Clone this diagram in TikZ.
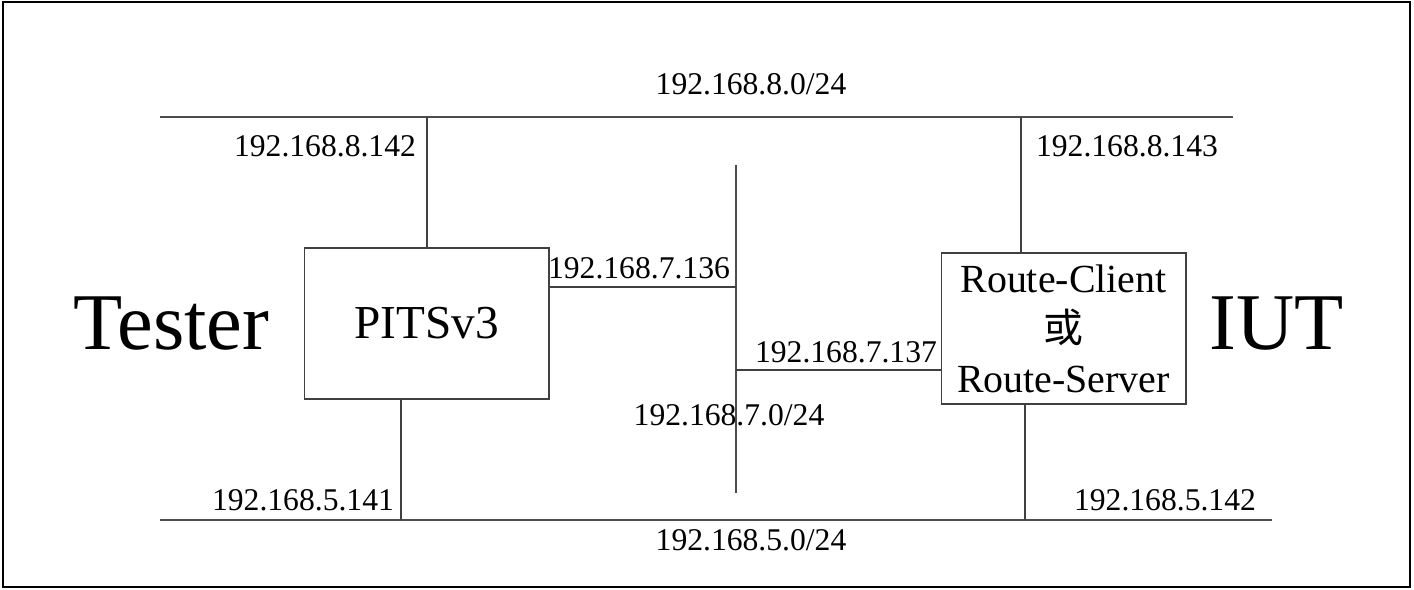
\documentclass[tikz,border=0pt]{standalone}
\usepackage{fontspec}
\setmainfont{Liberation Serif}
\newfontfamily\cjk{Noto Sans CJK SC}
\begin{document}
\begin{tikzpicture}[x=0.02cm, y=-0.02cm,
  ip/.style={font=\fontsize{18pt}{20pt}\selectfont, inner sep=0pt},
  side/.style={font=\fontsize{45.8pt}{50pt}\selectfont, inner sep=0pt},
  device/.style={draw=black!75, line width=0.6pt, minimum width=4.9cm, minimum height=3.02cm, inner sep=0pt, align=center},
  bus/.style={draw=black!70, line width=0.7pt},
  link/.style={draw=black!75, line width=0.6pt}]
  \useasboundingbox (0,0) rectangle (1414,590);
  \draw[line width=0.9pt] (3,2) rectangle (1410,587);

  % hosts
  \node[device, font=\fontsize{26.9pt}{30pt}\selectfont] (pits) at (426.5,323.5) {PITSv3};
  \node[device, font=\fontsize{22.7pt}{28.5pt}\selectfont] (iut) at (1063.5,328.5)
    {Route-Client\\{\cjk 或}\\Route-Server};
  \node[side] (tester) at (171.5,323.5) {Tester};
  \node[side] (iutlabel) at (1276.5,323.5) {IUT};

  % networks
  \coordinate (n8w) at (160,117);
  \coordinate (n8e) at (1233,117);
  \coordinate (n5w) at (160,520);
  \coordinate (n5e) at (1272,520);
  \coordinate (n7n) at (736,165);
  \coordinate (n7s) at (736,493);
  \draw[bus] (n8w) -- (n8e);
  \draw[bus] (n5w) -- (n5e);
  \draw[bus] (n7n) -- (n7s);

  % taps
  \coordinate (pits8) at (427,117);
  \coordinate (pits5) at (401,520);
  \coordinate (pits7) at (736,287);
  \coordinate (iut8) at (1021,117);
  \coordinate (iut5) at (1025,520);
  \coordinate (iut7) at (736,370);
  \draw[link] (pits.north -| pits8) -- (pits8);
  \draw[link] (pits.south -| pits5) -- (pits5);
  \draw[link] (pits.east |- pits7) -- (pits7);
  \draw[link] (iut.north -| iut8) -- (iut8);
  \draw[link] (iut.south -| iut5) -- (iut5);
  \draw[link] (iut.west |- iut7) -- (iut7);

  % addresses
  \node[ip] (net8) at (751,84) {192.168.8.0/24};
  \node[ip] (net7) at (729,415) {192.168.7.0/24};
  \node[ip] (net5) at (751,540) {192.168.5.0/24};
  \node[ip] (a8142) at (325,146) {192.168.8.142};
  \node[ip] (a8143) at (1127,146) {192.168.8.143};
  \node[ip] (a7136) at (639,268) {192.168.7.136};
  \node[ip] (a7137) at (846,352) {192.168.7.137};
  \node[ip] (a5141) at (303,500) {192.168.5.141};
  \node[ip] (a5142) at (1165,500) {192.168.5.142};
\end{tikzpicture}
\end{document}
